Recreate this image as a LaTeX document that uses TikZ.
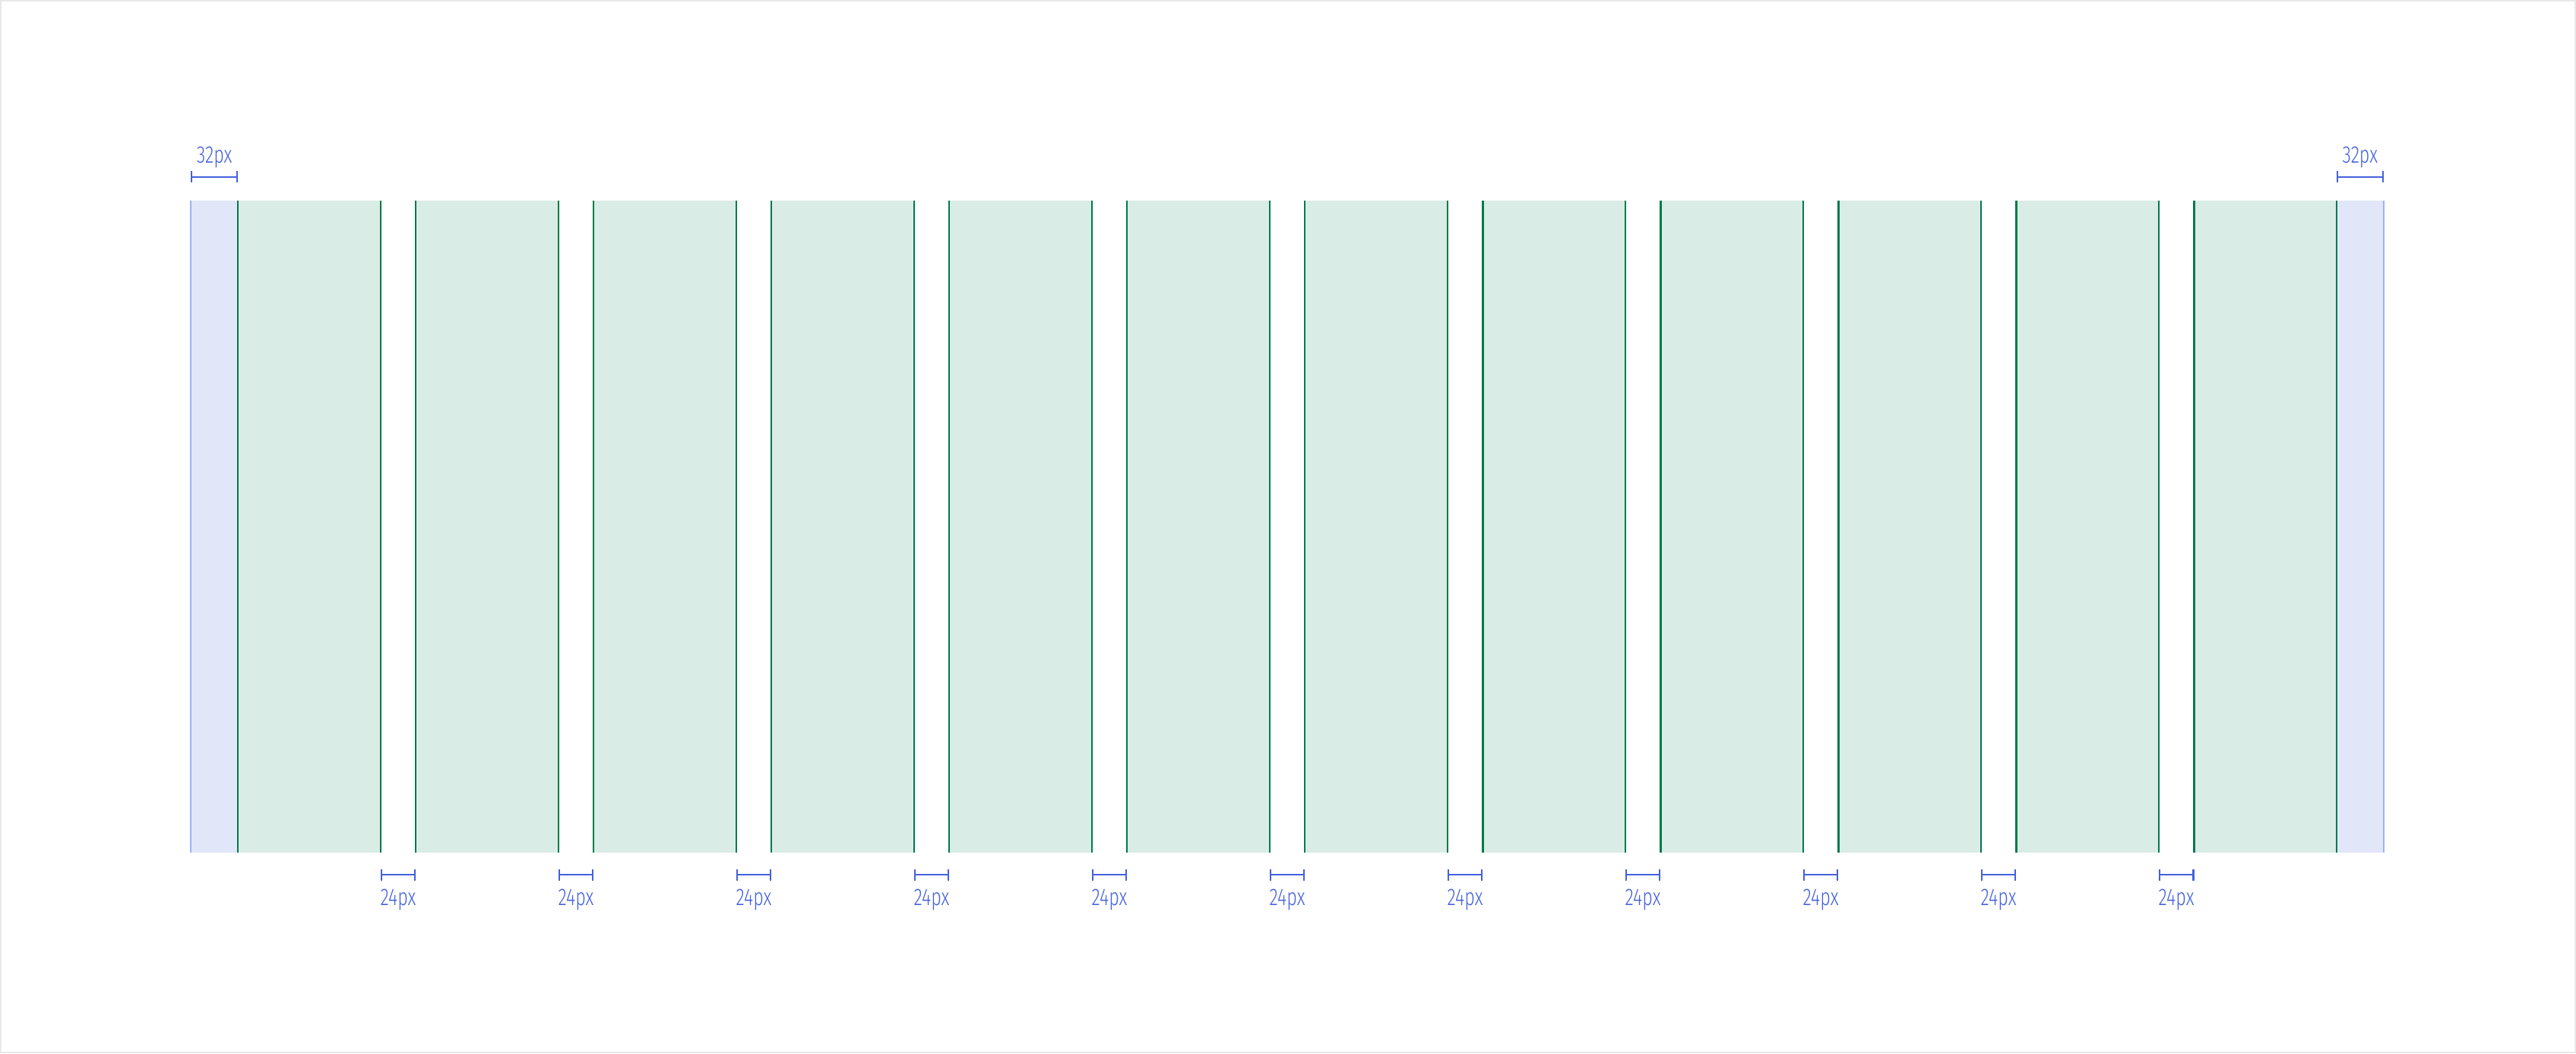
\documentclass[tikz,border=0pt]{standalone}
\usepackage{fontspec}
\usetikzlibrary{arrows.meta}
\newfontfamily\dimfont[FakeStretch=0.74, UprightFont=* Light]{Fira Sans}
\definecolor{framegray}{RGB}{232,232,232}
\definecolor{marginfill}{RGB}{225,230,249}
\definecolor{marginline}{RGB}{157,177,251}
\definecolor{colfill}{RGB}{217,236,229}
\definecolor{colline}{RGB}{0,122,77}
\definecolor{dimblue}{RGB}{68,97,221}
\tikzset{
	dimline/.style={dimblue, line width=0.57pt, {Bar[width=4.3pt,line width=0.57pt]}-{Bar[width=4.3pt,line width=0.57pt]}},
	collines/.style={colline, line width=0.6pt},
	marginlines/.style={marginline, line width=0.6pt}
}

\begin{document}
\begin{tikzpicture}[x=0.0195cm, y=-0.0195cm, every node/.style={font=\dimfont\fontsize{9}{10}\selectfont, text=dimblue, inner sep=0pt}]
	\useasboundingbox (-128.7,-135.4) rectangle (1609.7,575.4);
	\draw[framegray, line width=0.0195cm] (-128.2,-134.9) rectangle (1609.2,574.9);
	% margins
	\fill[marginfill] (0,0) rectangle (32,440);
	\fill[marginfill] (1448,0) rectangle (1480,440);
	\coordinate (ml-t) at (0,0);
	\coordinate (ml-b) at (0,440);
	\coordinate (mr-t) at (1480,0);
	\coordinate (mr-b) at (1480,440);
	\draw[marginlines] (ml-t) -- (ml-b);
	\draw[marginlines] (mr-t) -- (mr-b);
	% columns
	\foreach \i in {0,...,11} {
		\fill[colfill] ({32+120*\i},0) rectangle ({128+120*\i},440);
		\coordinate (c\i-lt) at ({32+120*\i},0);
		\coordinate (c\i-lb) at ({32+120*\i},440);
		\coordinate (c\i-rt) at ({128+120*\i},0);
		\coordinate (c\i-rb) at ({128+120*\i},440);
		\draw[collines] (c\i-lt) -- (c\i-lb);
		\draw[collines] (c\i-rt) -- (c\i-rb);
	}
	% margin widths
	\coordinate (dl-a) at (0,-16);
	\coordinate (dl-b) at (32,-16);
	\coordinate (dr-a) at (1448,-16);
	\coordinate (dr-b) at (1480,-16);
	\draw[dimline] (dl-a) -- (dl-b);
	\draw[dimline] (dr-a) -- (dr-b);
	\node[anchor=base] (ml-label) at (16,-25.6) {32px};
	\node[anchor=base] (mr-label) at (1464,-25.6) {32px};
	% gutter widths
	\foreach \i in {1,...,11} {
		\coordinate (g\i-a) at ({8+120*\i},455);
		\coordinate (g\i-b) at ({32+120*\i},455);
		\draw[dimline] (g\i-a) -- (g\i-b);
		\node[anchor=base] (g\i-label) at ({20+120*\i},475.7) {24px};
	}
\end{tikzpicture}
\end{document}
